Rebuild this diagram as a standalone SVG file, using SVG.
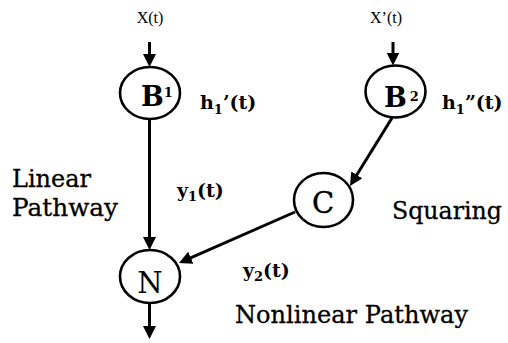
<svg xmlns="http://www.w3.org/2000/svg" width="508" height="343" viewBox="0 0 508 343">
  <style>
    .node { fill: #fff; stroke: #000; stroke-width: 2.6; }
    .edge { stroke: #000; stroke-width: 3; fill: none; marker-end: url(#arrow); }
    .sig { font-family: "Liberation Serif", "Times New Roman", serif; font-size: 16px; fill: #000; }
    .sym { font-family: "DejaVu Serif", "Liberation Serif", serif; fill: #000; }
    .lbl { font-family: "DejaVu Serif", "Liberation Serif", serif; font-weight: bold; font-size: 19px; fill: #000; }
    .cap { font-family: "DejaVu Serif", "Liberation Serif", serif; font-size: 23.5px; fill: #000; stroke: #000; stroke-width: 0.3; }
  </style>
  <defs>
    <marker id="arrow" markerUnits="userSpaceOnUse" markerWidth="14" markerHeight="14" refX="4" refY="6.5" orient="auto">
      <path d="M0,0 L13,6.5 L0,13 z" fill="#000"/>
    </marker>
  </defs>

  <!-- connectors -->
  <g id="connectors">
    <line class="edge" x1="149.5" y1="42" x2="149.5" y2="58"/>
    <line class="edge" x1="393" y1="42" x2="393" y2="56.5"/>
    <line class="edge" x1="149.5" y1="119" x2="149.5" y2="241"/>
    <line class="edge" x1="392" y1="118" x2="354.7" y2="178.3"/>
    <line class="edge" x1="295" y1="212" x2="187.2" y2="259.4"/>
    <line class="edge" x1="149.5" y1="303" x2="149.5" y2="330"/>
  </g>

  <!-- input signals -->
  <text class="sig" x="150" y="23" text-anchor="middle">X(t)</text>
  <text class="sig" x="386" y="23" text-anchor="middle">X’(t)</text>

  <g id="B1">
    <ellipse class="node" cx="150" cy="93" rx="30" ry="26"/>
    <text class="sym" x="141" y="106" font-size="27" font-weight="bold">B<tspan font-size="13" dy="-9">1</tspan></text>
  </g>

  <g id="B2">
    <ellipse class="node" cx="395.5" cy="91.5" rx="30" ry="26"/>
    <text class="sym" x="384" y="107" font-size="27" font-weight="bold">B<tspan font-size="13" dx="3" dy="-6">2</tspan></text>
  </g>

  <g id="C">
    <ellipse class="node" cx="323.5" cy="200" rx="29.5" ry="27"/>
    <text class="sym" x="323" y="213" font-size="29" text-anchor="middle" stroke="#000" stroke-width="0.4">C</text>
  </g>

  <g id="N">
    <ellipse class="node" cx="150" cy="276.5" rx="30" ry="26.5"/>
    <text class="sym" x="150" y="293" font-size="29" text-anchor="middle">N</text>
  </g>

  <!-- kernel and signal labels -->
  <text class="lbl" x="200" y="109">h<tspan font-size="13" dy="5">1</tspan><tspan dy="-5">’(t)</tspan></text>
  <text class="lbl" x="442" y="109">h<tspan font-size="13" dy="5">1</tspan><tspan dy="-5">”(t)</tspan></text>
  <text class="lbl" x="177" y="197">y<tspan font-size="13" dy="4">1</tspan><tspan dy="-4">(t)</tspan></text>
  <text class="lbl" x="243" y="277">y<tspan font-size="13" dy="4">2</tspan><tspan dy="-4">(t)</tspan></text>

  <!-- pathway captions -->
  <text class="cap" x="12" y="187" textLength="79" lengthAdjust="spacingAndGlyphs">Linear</text>
  <text class="cap" x="12" y="216" textLength="106" lengthAdjust="spacingAndGlyphs">Pathway</text>
  <text class="cap" x="392" y="219" textLength="110" lengthAdjust="spacingAndGlyphs">Squaring</text>
  <text class="cap" x="235" y="323" textLength="233" lengthAdjust="spacingAndGlyphs">Nonlinear Pathway</text>
</svg>
